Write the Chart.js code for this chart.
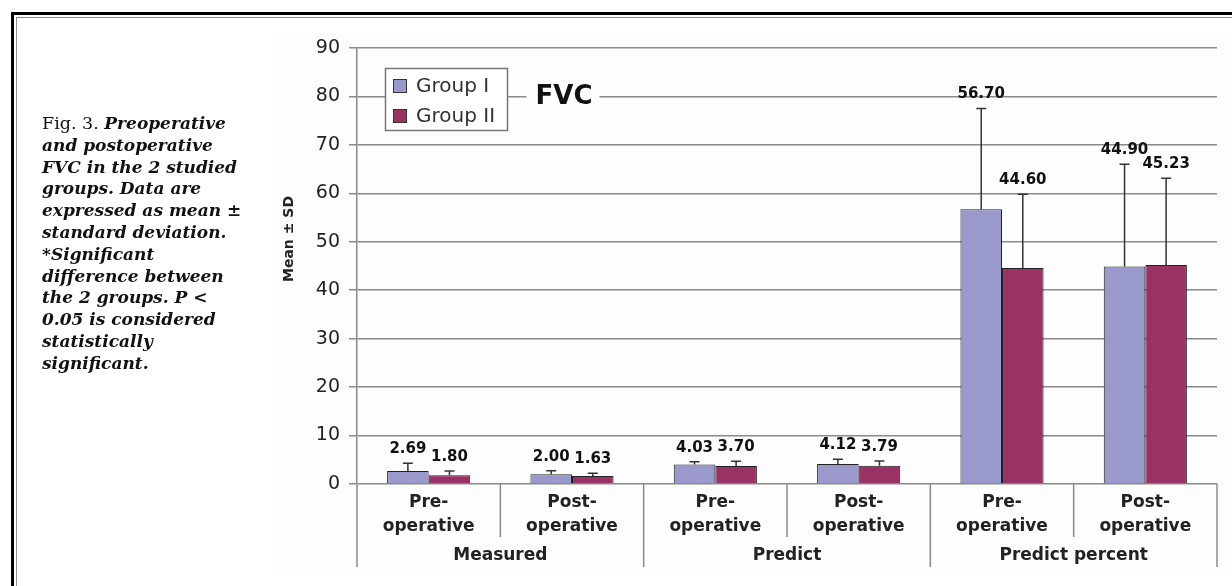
<!DOCTYPE html>
<html>
<head>
<meta charset="utf-8">
<script src="https://cdn.jsdelivr.net/npm/chart.js@4.4.0/dist/chart.umd.min.js"></script>
<style>
  html, body { margin: 0; padding: 0; background: #fff; width: 1232px; height: 586px; overflow: hidden; }
  #frameOuter { position: absolute; left: 11px; top: 12px; right: -20px; bottom: -20px;
                border-top: 3px solid #000; border-left: 3px solid #000; }
  #frameInner { position: absolute; left: 16px; top: 17px; right: -20px; bottom: -20px;
                border-top: 1px solid #8c8c8c; border-left: 1px solid #8c8c8c; }
  #chart { position: absolute; left: 0; top: 0; }
  #caption { position: absolute; left: 42px; top: 113px; font-family: "DejaVu Serif", serif;
             font-size: 17px; line-height: 21.8px; color: #111; font-style: italic; font-weight: bold;
             white-space: nowrap; }
  #caption .rm { font-style: normal; font-weight: normal; font-size: 17.5px; }
</style>
</head>
<body>
<div id="frameOuter"></div>
<div id="frameInner"></div>
<canvas id="chart" width="1232" height="586"></canvas>
<div id="caption">
  <div><span class="rm">Fig. 3. </span>Preoperative</div>
  <div>and postoperative</div>
  <div>FVC in the 2 studied</div>
  <div>groups. Data are</div>
  <div>expressed as mean ±</div>
  <div>standard deviation.</div>
  <div>*Significant</div>
  <div>difference between</div>
  <div>the 2 groups. P &lt;</div>
  <div>0.05 is considered</div>
  <div>statistically</div>
  <div>significant.</div>
</div>
<script>
// Category labels (two lines each) and their outer groups
const categories = [
  ["Pre-", "operative"], ["Post-", "operative"],
  ["Pre-", "operative"], ["Post-", "operative"],
  ["Pre-", "operative"], ["Post-", "operative"]
];
const groupNames = ["Measured", "Predict", "Predict percent"];
const seriesNames = ["Group I", "Group II"];

// Means and standard deviations
const groupI = [2.69, 2.00, 4.03, 4.12, 56.70, 44.90];
const groupII = [1.80, 1.63, 3.70, 3.79, 44.60, 45.23];
const sdGroupI = [1.6, 0.75, 0.55, 1.0, 20.8, 21.1];
const sdGroupII = [0.9, 0.6, 1.0, 0.95, 15.2, 17.9];

const yMin = 0, yMax = 90, yStep = 10;
const chartTitle = "FVC";
const yAxisTitle = "Mean ± SD";

const colorI = "#9999cc";
const colorII = "#993366";
const gridColor = "#8a8a8a";
const inkColor = "#222";

const decorations = {
  id: "decorations",
  beforeDraw(chart) {
    const ctx = chart.ctx;
    ctx.save();
    ctx.fillStyle = "#fdfdfd";
    ctx.fillRect(274, 32, 958, 540);
    ctx.restore();
  },
  afterDatasetsDraw(chart) {
    const ctx = chart.ctx;
    const y = chart.scales.y;
    ctx.save();
    chart.data.datasets.forEach((ds, di) => {
      const meta = chart.getDatasetMeta(di);
      meta.data.forEach((bar, i) => {
        const v = ds.data[i];
        const top = y.getPixelForValue(v + ds.sd[i]);
        // error bar (upper whisker with cap)
        ctx.strokeStyle = "#333";
        ctx.lineWidth = 1.5;
        ctx.beginPath();
        ctx.moveTo(bar.x, bar.y);
        ctx.lineTo(bar.x, top);
        ctx.moveTo(bar.x - 5, top);
        ctx.lineTo(bar.x + 5, top);
        ctx.stroke();
        // value label
        ctx.fillStyle = "#111";
        ctx.font = "bold 15px 'DejaVu Sans'";
        ctx.textAlign = "center";
        ctx.textBaseline = "middle";
        ctx.fillText(v.toFixed(2), bar.x, top - 14);
      });
    });
    ctx.restore();
  },
  afterDraw(chart) {
    const ctx = chart.ctx;
    const x = chart.scales.x;
    const y = chart.scales.y;
    const area = chart.chartArea;
    const n = categories.length;
    ctx.save();

    // category and group separators below the axis
    const bounds = [];
    for (let i = 0; i <= n; i++) {
      if (i === 0) bounds.push(area.left);
      else if (i === n) bounds.push(area.right);
      else bounds.push((x.getPixelForValue(i - 1) + x.getPixelForValue(i)) / 2);
    }
    ctx.strokeStyle = gridColor;
    ctx.lineWidth = 1.5;
    bounds.forEach((bx, i) => {
      const long = i % 2 === 0;
      ctx.beginPath();
      ctx.moveTo(bx, area.bottom);
      ctx.lineTo(bx, area.bottom + (long ? 83 : 53));
      ctx.stroke();
    });

    // group labels
    ctx.fillStyle = inkColor;
    ctx.font = "bold 17px 'DejaVu Sans'";
    ctx.textAlign = "center";
    ctx.textBaseline = "middle";
    groupNames.forEach((g, gi) => {
      const cx = (bounds[gi * 2] + bounds[gi * 2 + 2]) / 2;
      ctx.fillText(g, cx, area.bottom + 72);
    });

    // y axis title
    ctx.save();
    ctx.translate(289, 239);
    ctx.rotate(-Math.PI / 2);
    ctx.font = "bold 14px 'DejaVu Sans'";
    ctx.fillText(yAxisTitle, 0, 0);
    ctx.restore();

    // legend box
    const lx = 385, ly = 68, lw = 122, lh = 62;
    ctx.fillStyle = "#fff";
    ctx.fillRect(lx, ly, lw, lh);
    ctx.strokeStyle = "#777";
    ctx.lineWidth = 1.5;
    ctx.strokeRect(lx + 0.5, ly + 0.5, lw, lh);
    chart.data.datasets.forEach((ds, di) => {
      const cy = ly + 18 + di * 30;
      ctx.fillStyle = ds.backgroundColor;
      ctx.fillRect(393, cy - 7, 14, 14);
      ctx.strokeStyle = "#333";
      ctx.lineWidth = 1;
      ctx.strokeRect(393.5, cy - 6.5, 13, 13);
      ctx.fillStyle = "#333";
      ctx.font = "20px 'DejaVu Sans'";
      ctx.textAlign = "left";
      ctx.textBaseline = "middle";
      ctx.fillText(ds.label, 416, cy + 1);
    });

    // chart title sitting on the 80 gridline
    const ty = y.getPixelForValue(80);
    const tx = 564;
    ctx.font = "bold 26px 'DejaVu Sans'";
    const tw = ctx.measureText(chartTitle).width;
    ctx.fillStyle = "#fdfdfd";
    ctx.fillRect(tx - tw / 2 - 9, ty - 4, tw + 16, 8);
    ctx.fillStyle = "#111";
    ctx.textAlign = "center";
    ctx.textBaseline = "middle";
    ctx.fillText(chartTitle, tx, ty + 1);

    ctx.restore();
  }
};

new Chart(document.getElementById("chart"), {
  type: "bar",
  data: {
    labels: categories,
    datasets: [
      { label: seriesNames[0], data: groupI, sd: sdGroupI, backgroundColor: colorI,
        borderColor: "#222", borderWidth: 1, categoryPercentage: 0.58, barPercentage: 1.0 },
      { label: seriesNames[1], data: groupII, sd: sdGroupII, backgroundColor: colorII,
        borderColor: "#222", borderWidth: 1, categoryPercentage: 0.58, barPercentage: 1.0 }
    ]
  },
  options: {
    responsive: false,
    animation: false,
    devicePixelRatio: 1,
    layout: { padding: { left: 0, top: 48, right: 15, bottom: 0 } },
    plugins: { legend: { display: false }, tooltip: { enabled: false } },
    scales: {
      x: {
        grid: { display: false, drawTicks: false },
        border: { display: false },
        ticks: {
          color: inkColor, padding: 7, maxRotation: 0, autoSkip: false,
          font: { family: "DejaVu Sans", size: 17, weight: "bold", lineHeight: 1.4 }
        },
        afterFit(scale) { scale.height = 102; }
      },
      y: {
        min: yMin, max: yMax,
        grid: { color: gridColor, lineWidth: 1.5, tickLength: 8, tickColor: gridColor },
        border: { display: true, color: gridColor, width: 1.5 },
        ticks: {
          stepSize: yStep, color: inkColor, padding: 9,
          font: { family: "DejaVu Sans", size: 19 }
        },
        afterFit(scale) { scale.width = 357; }
      }
    }
  },
  plugins: [decorations]
});
</script>
</body>
</html>
